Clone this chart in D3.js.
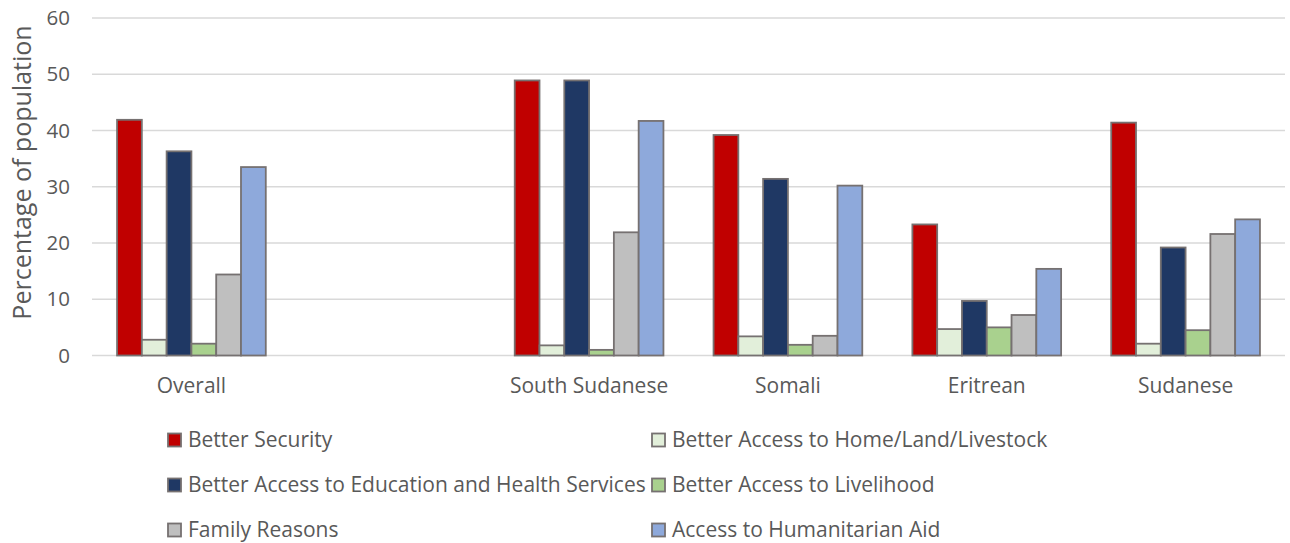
<!DOCTYPE html>
<html><head><meta charset="utf-8">
<script src="https://cdn.jsdelivr.net/npm/d3@7"></script>
<style>body{margin:0;background:#fff}svg{display:block}text{font-family:"Open Sans",sans-serif;fill:#595959}</style>
</head><body><svg id="c" width="1290" height="543"></svg>
<script>
const categories = ["Overall", "", "South Sudanese", "Somali", "Eritrean", "Sudanese"];
const seriesNames = ["Better Security", "Better Access to Home/Land/Livestock", "Better Access to Education and Health Services", "Better Access to Livelihood", "Family Reasons", "Access to Humanitarian Aid"];
const betterSecurity = [41.9, null, 48.9, 39.2, 23.3, 41.4];
const homeLand = [2.8, null, 1.8, 3.4, 4.7, 2.1];
const eduHealth = [36.3, null, 48.9, 31.4, 9.7, 19.2];
const livelihood = [2.1, null, 1.0, 1.9, 5.0, 4.5];
const family = [14.4, null, 21.9, 3.5, 7.2, 21.6];
const humanitarian = [33.5, null, 41.7, 30.2, 15.4, 24.2];
const yTicks = [0, 10, 20, 30, 40, 50, 60];
const colors = ["#C00000", "#E2EFDA", "#1F3864", "#A9D18E", "#BFBFBF", "#8EA9DB"];
const seriesValues = [betterSecurity, homeLand, eduHealth, livelihood, family, humanitarian];

const svg = d3.select("#c");
const x0 = d3.scaleBand().domain(d3.range(categories.length)).range([92, 1285]);
const bw = x0.bandwidth();
const x1 = d3.scaleBand().domain(d3.range(seriesNames.length)).range([bw * 0.126, bw * 0.874]);
const y = d3.scaleLinear().domain([0, 60]).range([355.5, 18]);

// gridlines
svg.append("g").selectAll("line").data(yTicks).join("line")
  .attr("x1", 92).attr("x2", 1285)
  .attr("y1", d => y(d)).attr("y2", d => y(d))
  .attr("stroke", "#d9d9d9").attr("stroke-width", 1.5);

// y axis labels
const yAxis = d3.axisLeft(y).tickValues(yTicks).tickSize(0).tickPadding(0);
const ga = svg.append("g").attr("transform", "translate(70,0)").call(yAxis);
ga.select(".domain").remove();
ga.selectAll("text").attr("font-size", 20.5).attr("fill", "#595959").attr("font-family", "Open Sans");

// y title
svg.append("text").attr("transform", "translate(31,172.5) rotate(-90)")
  .attr("text-anchor", "middle").attr("font-size", 25).text("Percentage of population");

// bars
seriesValues.forEach((vals, si) => {
  svg.append("g").selectAll("rect").data(vals.map((v, ci) => ({v, ci}))).join("rect")
    .filter(d => d.v != null)
    .attr("x", d => x0(d.ci) + x1(si))
    .attr("width", x1.bandwidth())
    .attr("y", d => y(d.v))
    .attr("height", d => y(0) - y(d.v))
    .attr("fill", colors[si])
    .attr("stroke", "#767171").attr("stroke-width", 1.8);
});

// category labels
const xAxis = d3.axisBottom(x0).tickFormat(i => categories[i]).tickSize(0).tickPadding(0);
const gx = svg.append("g").attr("transform", "translate(0,378)").call(xAxis);
gx.select(".domain").remove();
gx.selectAll("text").attr("font-size", 21).attr("fill", "#595959").attr("font-family", "Open Sans").attr("dy", "0.71em");

// legend
const legX = [168, 652], legY = [440, 485, 530];
seriesNames.forEach((name, i) => {
  const gx2 = legX[i % 2], gy = legY[Math.floor(i / 2)];
  svg.append("rect").attr("x", gx2).attr("y", gy - 6.5).attr("width", 13).attr("height", 13)
    .attr("fill", colors[i]).attr("stroke", "#767171").attr("stroke-width", 1.8);
  svg.append("text").attr("x", gx2 + 20).attr("y", gy).attr("dy", "0.35em")
    .attr("font-size", 21).text(name);
});
</script></body></html>
